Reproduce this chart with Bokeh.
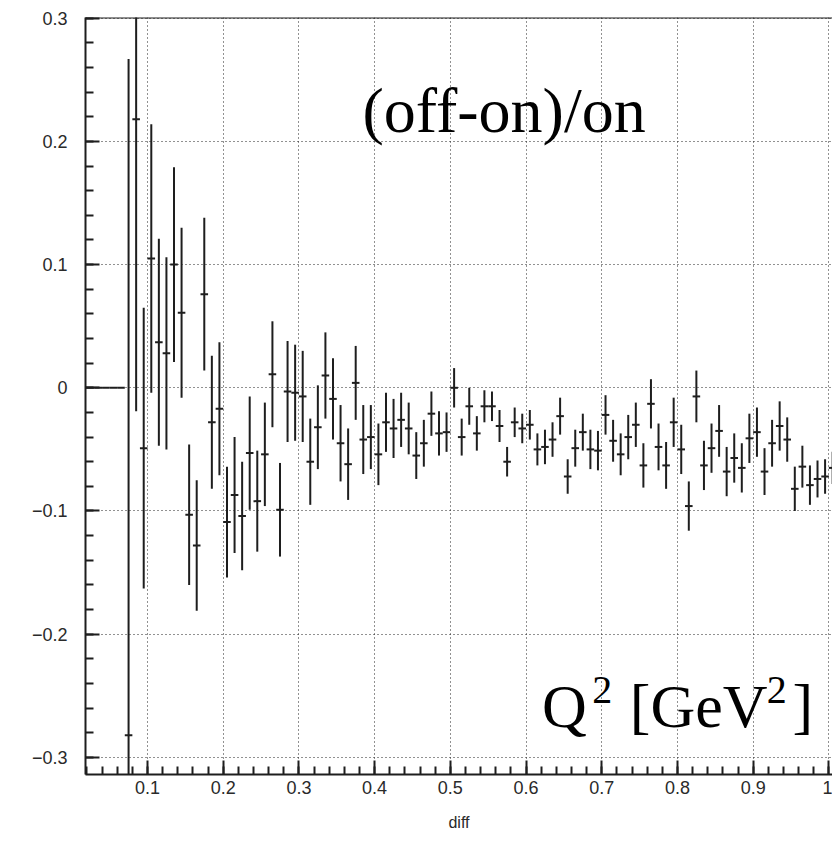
from bokeh.plotting import figure
from bokeh.models import ColumnDataSource, Span, Label, CustomJSTickFormatter, FixedTicker
from bokeh.embed import file_html
from bokeh.resources import INLINE

# ---- data: histogram (off-on)/on vs Q^2, bin width 0.01 ----
bin_centers = [0.015, 0.025, 0.035, 0.045, 0.055, 0.065,
               0.075, 0.085, 0.095, 0.105, 0.115, 0.125, 0.135, 0.145, 0.155, 0.165,
               0.175, 0.185, 0.195, 0.205, 0.215, 0.225, 0.235, 0.245, 0.255, 0.265,
               0.275, 0.285, 0.295, 0.305, 0.315, 0.325, 0.335, 0.345, 0.355, 0.365,
               0.375, 0.385, 0.395, 0.405, 0.415, 0.425, 0.435, 0.445, 0.455, 0.465,
               0.475, 0.485, 0.495, 0.505, 0.515, 0.525, 0.535, 0.545, 0.555, 0.565,
               0.575, 0.585, 0.595, 0.605, 0.615, 0.625, 0.635, 0.645, 0.655, 0.665,
               0.675, 0.685, 0.695, 0.705, 0.715, 0.725, 0.735, 0.745, 0.755, 0.765,
               0.775, 0.785, 0.795, 0.805, 0.815, 0.825, 0.835, 0.845, 0.855, 0.865,
               0.875, 0.885, 0.895, 0.905, 0.915, 0.925, 0.935, 0.945, 0.955, 0.965,
               0.975, 0.985, 0.995, 1.005]
bin_width = 0.01

ratio = [0.0, 0.0, 0.0, 0.0, 0.0, 0.0,
         -0.282, 0.218, -0.049, 0.105, 0.037, 0.028, 0.100, 0.061, -0.103, -0.128,
         0.076, -0.028, -0.017, -0.109, -0.087, -0.104, -0.053, -0.092, -0.054, 0.011,
         -0.099, -0.003, -0.004, -0.007, -0.060, -0.032, 0.010, -0.009, -0.045, -0.062,
         0.004, -0.042, -0.040, -0.054, -0.028, -0.033, -0.026, -0.033, -0.055, -0.045,
         -0.021, -0.037, -0.036, 0.000, -0.040, -0.015, -0.037, -0.015, -0.015, -0.031,
         -0.060, -0.028, -0.033, -0.030, -0.050, -0.048, -0.042, -0.023, -0.072, -0.049,
         -0.036, -0.050, -0.051, -0.022, -0.043, -0.054, -0.040, -0.030, -0.063, -0.013,
         -0.048, -0.063, -0.028, -0.050, -0.096, -0.007, -0.063, -0.049, -0.035, -0.068,
         -0.057, -0.065, -0.041, -0.036, -0.068, -0.045, -0.031, -0.042, -0.082, -0.064,
         -0.079, -0.074, -0.072, -0.065]

ratio_err = [0.0, 0.0, 0.0, 0.0, 0.0, 0.0,
             0.549, 0.237, 0.114, 0.109, 0.084, 0.078, 0.079, 0.069, 0.057, 0.053,
             0.062, 0.054, 0.054, 0.045, 0.047, 0.044, 0.046, 0.041, 0.042, 0.043,
             0.038, 0.041, 0.039, 0.037, 0.035, 0.034, 0.035, 0.033, 0.031, 0.029,
             0.030, 0.028, 0.026, 0.025, 0.024, 0.024, 0.022, 0.021, 0.019, 0.019,
             0.018, 0.018, 0.016, 0.016, 0.015, 0.015, 0.014, 0.013, 0.012, 0.013,
             0.012, 0.012, 0.012, 0.012, 0.013, 0.014, 0.014, 0.015, 0.014, 0.015,
             0.015, 0.016, 0.016, 0.016, 0.017, 0.017, 0.018, 0.018, 0.018, 0.020,
             0.019, 0.019, 0.020, 0.020, 0.020, 0.021, 0.020, 0.020, 0.021, 0.020,
             0.020, 0.020, 0.020, 0.020, 0.019, 0.019, 0.020, 0.018, 0.018, 0.017,
             0.016, 0.015, 0.014, 0.013]

x_ticks = [0.1, 0.2, 0.3, 0.4, 0.5, 0.6, 0.7, 0.8, 0.9, 1.0]
y_ticks = [-0.3, -0.2, -0.1, 0.0, 0.1, 0.2, 0.3]

title_text = "(off-on)/on"
x_axis_title = "diff"

# ---- sources ----
src = ColumnDataSource(dict(
    x=bin_centers,
    y=ratio,
    x0=[c - bin_width / 2 for c in bin_centers],
    x1=[c + bin_width / 2 for c in bin_centers],
    ylo=[v - e for v, e in zip(ratio, ratio_err)],
    yhi=[v + e for v, e in zip(ratio, ratio_err)],
))

X_START, X_END = 0.0181, 1.0048
Y_START, Y_END = -0.3139, 0.3006

p = figure(width=832, height=846, x_range=(X_START, X_END), y_range=(Y_START, Y_END),
           output_backend="svg", toolbar_location=None,
           min_border_left=85, min_border_right=0, min_border_top=17, min_border_bottom=72)
p.background_fill_color = "white"
p.border_fill_color = "white"
p.outline_line_color = None

ink = "#1e1e1e"

# error bars
p.segment(x0="x", y0="ylo", x1="x", y1="yhi", source=src, line_color=ink, line_width=2)
p.segment(x0="x0", y0="y", x1="x1", y1="y", source=src, line_color=ink, line_width=2)

# top frame line
p.add_layout(Span(location=Y_END, dimension="width", line_color=ink, line_width=2))

fmt = CustomJSTickFormatter(code="""
    var a = Math.abs(tick);
    var s = (Math.round(a * 10) / 10).toString();
    return (tick < -1e-9 ? '\\u2212' : '') + s;
""")

for ax, ticks in ((p.xaxis[0], x_ticks), (p.yaxis[0], y_ticks)):
    ax.ticker = FixedTicker(ticks=ticks,
                            minor_ticks=[round(-0.3 + 0.02 * i, 2) for i in range(0, 70)])
    ax.formatter = fmt
    ax.axis_line_color = ink
    ax.axis_line_width = 2
    ax.major_tick_line_color = ink
    ax.major_tick_line_width = 2
    ax.minor_tick_line_color = ink
    ax.minor_tick_line_width = 2
    ax.major_tick_in = 14
    ax.major_tick_out = 0
    ax.minor_tick_in = 8
    ax.minor_tick_out = 0
    ax.major_label_text_font = "Liberation Sans"
    ax.major_label_text_font_size = "18px"
    ax.major_label_text_color = "#2a2a2a"

p.yaxis[0].major_label_standoff = 18
p.xaxis[0].major_label_standoff = 6
p.xaxis[0].axis_label = x_axis_title
p.xaxis[0].axis_label_text_font = "Liberation Sans"
p.xaxis[0].axis_label_text_font_size = "16px"
p.xaxis[0].axis_label_text_font_style = "normal"
p.xaxis[0].axis_label_text_color = "#2a2a2a"
p.xaxis[0].axis_label_standoff = 17

for g in (p.xgrid[0], p.ygrid[0]):
    g.grid_line_color = "#222222"
    g.grid_line_dash = "1 3"
    g.grid_line_width = 1
p.xgrid[0].ticker = FixedTicker(ticks=x_ticks)
p.ygrid[0].ticker = FixedTicker(ticks=y_ticks)

# ---- text annotations (Times-like) ----
serif = "Liberation Serif"
p.add_layout(Label(x=0.384, y=0.2255, text=title_text, text_font=serif,
                   text_font_size="64px", text_color="black", text_baseline="alphabetic"))

big, small = "62px", "40px"
y_base, y_sup = -0.2587, -0.2456
for xx, yy, t, fs in ((0.6210, y_base, "Q", big),
                      (0.6875, y_sup, "2", small),
                      (0.7370, y_base, "[GeV", big),
                      (0.9180, y_sup, "2", small),
                      (0.9520, y_base, "]", big)):
    p.add_layout(Label(x=xx, y=yy, text=t, text_font=serif, text_font_size=fs,
                       text_color="black", text_baseline="alphabetic"))

open("out.html", "w").write(file_html(p, INLINE))
